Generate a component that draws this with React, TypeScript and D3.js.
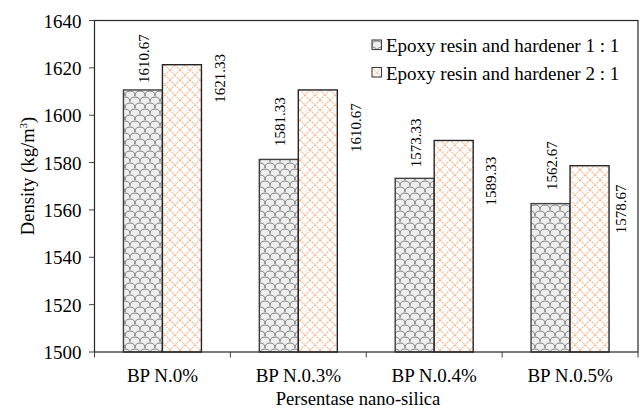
import React from "react";
import * as d3 from "d3";

const categories = ["BP N.0%", "BP N.0.3%", "BP N.0.4%", "BP N.0.5%"];
const seriesNames = ["Epoxy resin and hardener 1 : 1", "Epoxy resin and hardener 2 : 1"];
const series1 = [1610.67, 1581.33, 1573.33, 1562.67];
const series2 = [1621.33, 1610.67, 1589.33, 1578.67];
const yTicks = [1500, 1520, 1540, 1560, 1580, 1600, 1620, 1640];

// layout tweaks for value labels (pixels)
const gapAbove1 = [7, 13.5, 11, 13.5];
const dropBelow2 = [38, 62, 65, 67.5];
const rightOf2 = [23.3, 23.3, 22.4, 17.4];

const W = 640;
const H = 412;
const M = { left: 94.5, right: 638, top: 20.5, bottom: 352 };
const FONT = "'Liberation Serif', 'Times New Roman', serif";

export default function App() {
  const x0 = d3.scaleBand<string>().domain(categories).range([M.left, M.right]).paddingInner(0).paddingOuter(0);
  const x1 = d3.scaleBand<number>().domain([0, 1]).range([0, x0.bandwidth()]).paddingInner(0).paddingOuter(0.742);
  const y = d3.scaleLinear().domain([1500, 1640]).range([M.bottom, M.top]);
  const bw = x1.bandwidth();
  const boundaries = [...categories.map((c) => x0(c) as number), M.right];

  return (
    <svg width={W} height={H} style={{ position: "absolute", left: 0, top: 0, background: "#fff" }} fontFamily={FONT}>
      <defs>
        <pattern id="shingle" patternUnits="userSpaceOnUse" width="10" height="12">
          <rect width="10" height="12" fill="#efefef" />
          <path d="M0,6 Q0,1 5,1 Q10,1 10,6 M-5,12 Q-5,7 0,7 Q5,7 5,12 M5,12 Q5,7 10,7 Q15,7 15,12" fill="none" stroke="#7f7f7f" strokeWidth="1" />
        </pattern>
        <pattern id="diamond" patternUnits="userSpaceOnUse" width="10" height="10">
          <rect width="10" height="10" fill="#fff" />
          <path d="M0,0 L10,10 M10,0 L0,10" fill="none" stroke="#f3b48a" strokeWidth="1.1" strokeDasharray="1.5,0.9" />
        </pattern>
      </defs>

      {/* bars */}
      {categories.map((c, i) => {
        const gx = x0(c) as number;
        const v1 = series1[i];
        const v2 = series2[i];
        const bx1 = gx + (x1(0) as number);
        const bx2 = gx + (x1(1) as number);
        return (
          <g key={c}>
            <rect x={bx1} y={y(v1)} width={bw} height={M.bottom - y(v1)} fill="url(#shingle)" stroke="#404040" strokeWidth={1.4} />
            <rect x={bx2} y={y(v2)} width={bw} height={M.bottom - y(v2)} fill="url(#diamond)" stroke="#262626" strokeWidth={1.4} />
          </g>
        );
      })}

      {/* value labels */}
      {categories.map((c, i) => {
        const gx = x0(c) as number;
        const v1 = series1[i];
        const v2 = series2[i];
        const cx1 = gx + (x1(0) as number) + bw / 2 + 6.5;
        const ly1 = y(v1) - gapAbove1[i];
        const cx2 = gx + (x1(1) as number) + bw + rightOf2[i];
        const ly2 = y(v2) + dropBelow2[i];
        return (
          <g key={"l" + c} fontSize={15} fill="#000">
            <text transform={`translate(${cx1},${ly1}) rotate(-90)`}>{v1.toFixed(2)}</text>
            <text transform={`translate(${cx2},${ly2}) rotate(-90)`}>{v2.toFixed(2)}</text>
          </g>
        );
      })}

      {/* frame */}
      <rect x={M.left} y={M.top} width={M.right - M.left} height={M.bottom - M.top} fill="none" stroke="#262626" strokeWidth={1.2} />

      {/* y ticks */}
      {yTicks.map((t) => (
        <g key={t}>
          <line x1={M.left - 5.5} x2={M.left} y1={y(t)} y2={y(t)} stroke="#404040" strokeWidth={1} />
          <text x={81.5} y={y(t) + 7} textAnchor="end" fontSize={19} fill="#000">
            {t}
          </text>
        </g>
      ))}

      {/* x ticks */}
      {boundaries.map((b, i) => (
        <line key={i} x1={b} x2={b} y1={M.bottom} y2={M.bottom + 5.5} stroke="#404040" strokeWidth={1} />
      ))}
      {categories.map((c) => (
        <text key={"c" + c} x={(x0(c) as number) + x0.bandwidth() / 2} y={381.5} textAnchor="middle" fontSize={19} fill="#000">
          {c}
        </text>
      ))}

      {/* axis titles */}
      <text x={358} y={405} textAnchor="middle" fontSize={18.6} fill="#000">
        Persentase nano-silica
      </text>
      <text transform={`translate(34,176) rotate(-90)`} textAnchor="middle" fontSize={18.6} fill="#000">
        Density (kg/m<tspan fontSize={11} dy={-7}>3</tspan>
        <tspan dy={7}>)</tspan>
      </text>

      {/* legend */}
      {seriesNames.map((s, i) => (
        <g key={s} transform={`translate(372,${40 + i * 27.5})`}>
          <rect x={0} y={0} width={9.5} height={9.5} fill={i === 0 ? "url(#shingle)" : "url(#diamond)"} stroke="#404040" strokeWidth={1.1} />
          <text x={14} y={12.3} fontSize={19} fill="#000">
            {s}
          </text>
        </g>
      ))}
    </svg>
  );
}
